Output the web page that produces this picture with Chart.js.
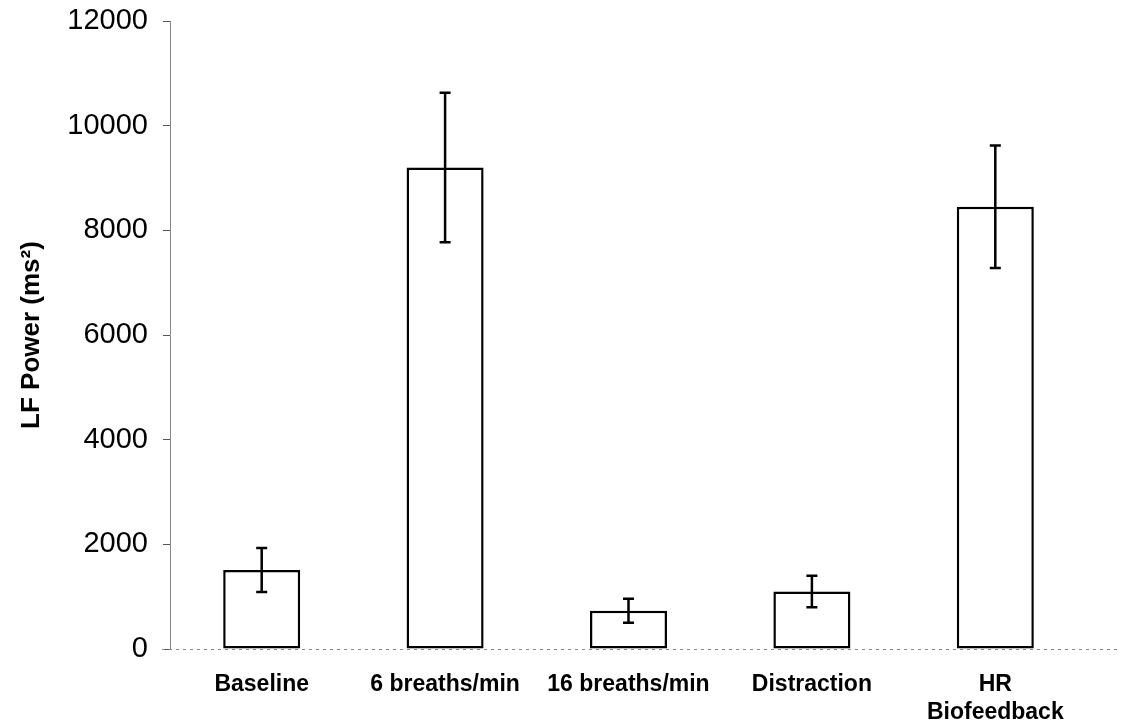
<!DOCTYPE html>
<html>
<head>
<meta charset="utf-8">
<script src="https://cdn.jsdelivr.net/npm/chart.js@4.4.1/dist/chart.umd.min.js"></script>
<style>
  html, body { margin: 0; padding: 0; background: #fff; }
  #wrap { width: 1124px; height: 726px; position: relative; }
</style>
</head>
<body>
<div id="wrap"><canvas id="chart" width="1124" height="726"></canvas></div>
<script>
// ── Data ──────────────────────────────────────────────────────────
const categories = ['Baseline', '6 breaths/min', '16 breaths/min', 'Distraction', ['HR', 'Biofeedback']];
const lfPower    = [1510, 9200, 730, 1100, 8450];
const lfError    = [420, 1430, 230, 300, 1170];
const yTicks     = [0, 2000, 4000, 6000, 8000, 10000, 12000];

// ── Error bars + dotted baseline ──────────────────────────────────
const errorBars = {
  id: 'errorBars',
  beforeDatasetsDraw(chart) {
    const { ctx, chartArea, scales: { y } } = chart;
    const y0 = y.getPixelForValue(0);
    ctx.save();
    ctx.strokeStyle = '#888';
    ctx.lineWidth = 1;
    ctx.setLineDash([3, 4]);
    ctx.beginPath();
    ctx.moveTo(chartArea.left - 8, y0 + 0.5);
    ctx.lineTo(chart.width - 4, y0 + 0.5);
    ctx.stroke();
    ctx.restore();
  },
  afterDatasetsDraw(chart) {
    const { ctx, scales: { y } } = chart;
    const meta = chart.getDatasetMeta(0);
    ctx.save();
    ctx.strokeStyle = '#000';
    ctx.lineWidth = 2.5;
    meta.data.forEach((bar, i) => {
      const top = y.getPixelForValue(lfPower[i] + lfError[i]);
      const bot = y.getPixelForValue(lfPower[i] - lfError[i]);
      const cap = 5.5;
      ctx.beginPath();
      ctx.moveTo(bar.x, top); ctx.lineTo(bar.x, bot);
      ctx.moveTo(bar.x - cap, top); ctx.lineTo(bar.x + cap, top);
      ctx.moveTo(bar.x - cap, bot); ctx.lineTo(bar.x + cap, bot);
      ctx.stroke();
    });
    ctx.restore();
  }
};

// ── Chart ─────────────────────────────────────────────────────────
new Chart(document.getElementById('chart').getContext('2d'), {
  type: 'bar',
  data: {
    labels: categories,
    datasets: [{
      data: lfPower,
      backgroundColor: '#fff',
      borderColor: '#000',
      borderWidth: 2.5,
      borderSkipped: false,
      categoryPercentage: 1,
      barPercentage: 0.42,
    }],
  },
  options: {
    responsive: false,
    animation: false,
    layout: { padding: { top: 21, right: 37, left: 0, bottom: 0 } },
    plugins: { legend: { display: false }, tooltip: { enabled: false } },
    scales: {
      x: {
        grid: { display: false, drawTicks: false },
        border: { display: false },
        ticks: {
          color: '#000',
          padding: 22,
          maxRotation: 0,
          autoSkip: false,
          font: { family: "'Liberation Sans', Arial, sans-serif", size: 23, weight: 'bold', lineHeight: 1.2 },
        },
        afterFit: s => { s.height = 77; },
      },
      y: {
        min: 0,
        max: 12000,
        afterBuildTicks: s => { s.ticks = yTicks.map(v => ({ value: v })); },
        grid: { drawOnChartArea: false, drawTicks: true, tickLength: 7, color: '#555' },
        border: { display: true, color: '#888', width: 1, dash: [3, 2] },
        ticks: {
          color: '#000',
          padding: 15,
          callback: v => String(v),
          font: { family: "'Liberation Sans', Arial, sans-serif", size: 29 },
        },
        title: {
          display: true,
          text: 'LF Power (ms²)',
          color: '#000',
          padding: { top: 16, bottom: 0 },
          font: { family: "'Liberation Sans', Arial, sans-serif", size: 26, weight: 'bold' },
        },
        afterFit: s => { s.width = 170; s.paddingTop = 0; s.paddingBottom = 0; },
      },
    },
  },
  plugins: [errorBars],
});
</script>
</body>
</html>
